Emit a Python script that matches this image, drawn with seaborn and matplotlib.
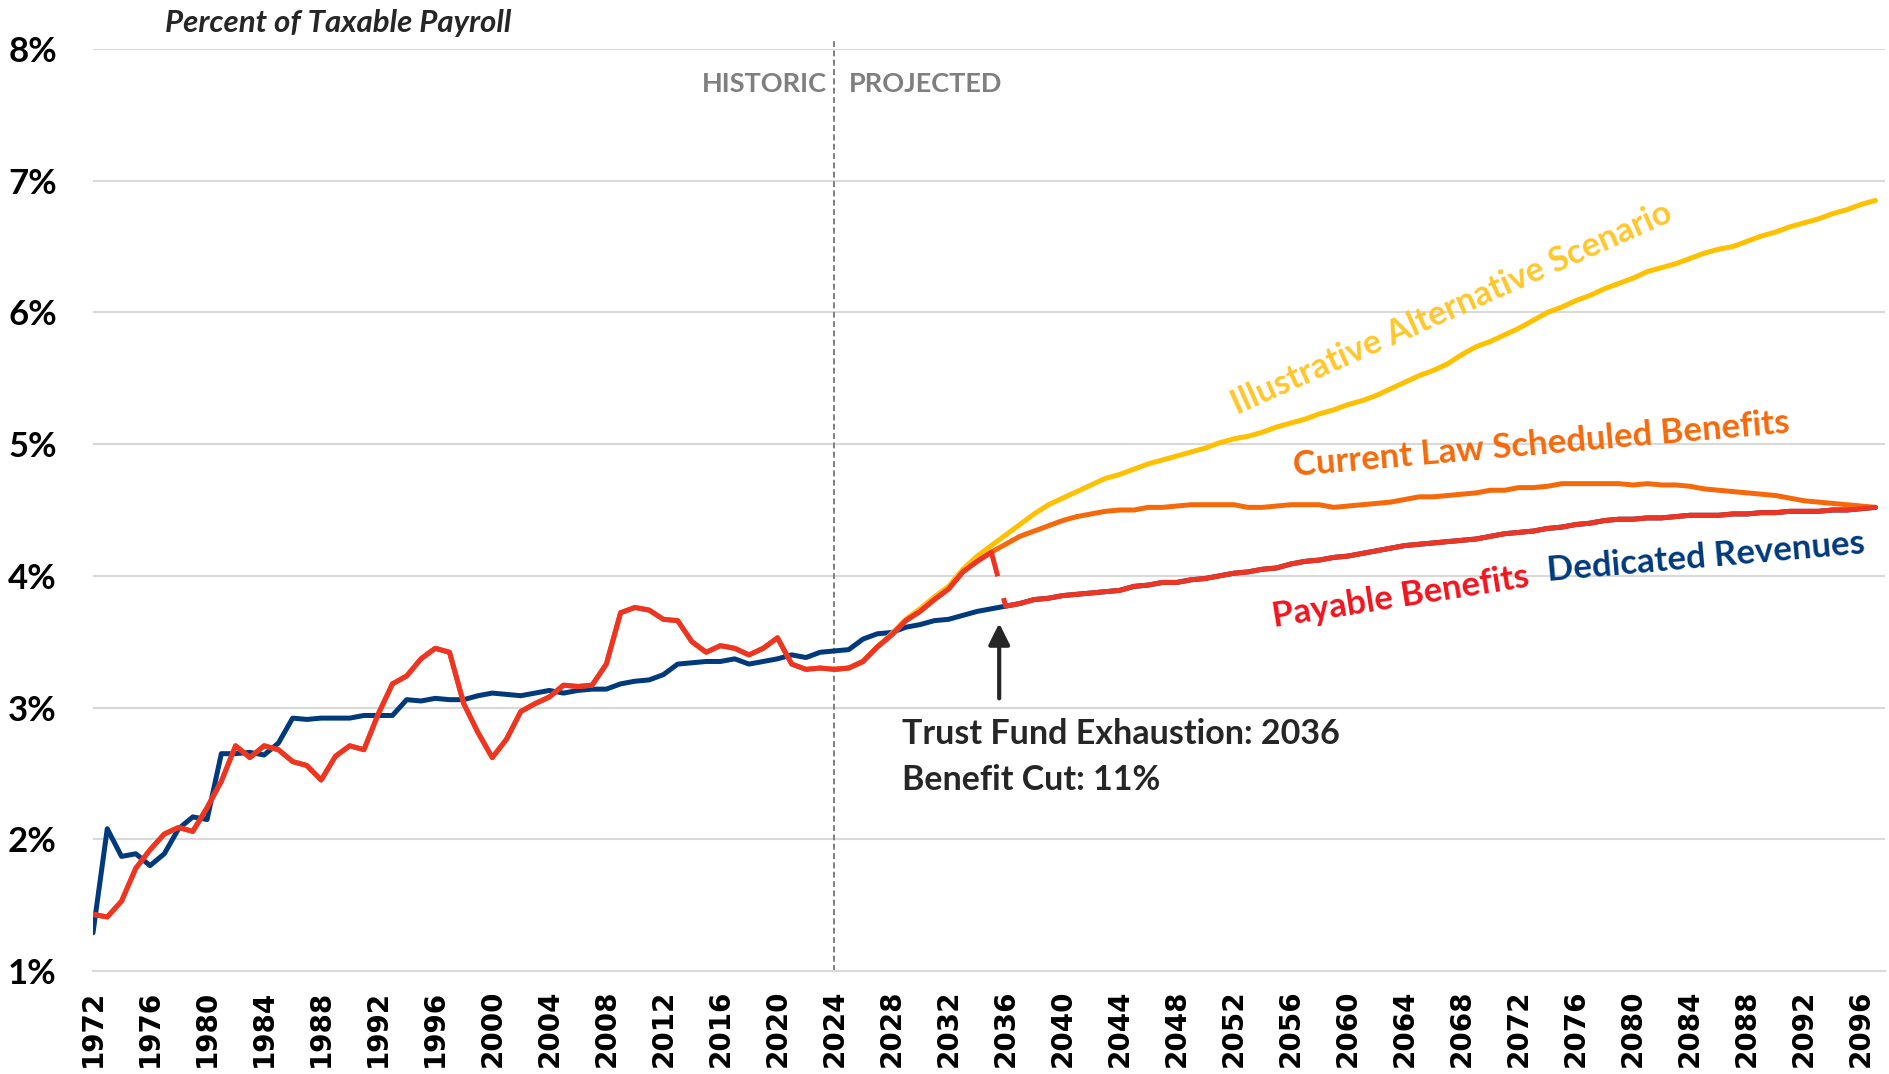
import matplotlib
matplotlib.use("Agg")
import matplotlib.pyplot as plt
import seaborn as sns

# Historic years 1972-2024 (percent of taxable payroll)
hist_years = list(range(1972, 2025))
income_hist = [1.29, 2.08, 1.87, 1.89, 1.80, 1.89, 2.08, 2.17, 2.15, 2.65,
               2.65, 2.66, 2.64, 2.73, 2.92, 2.91, 2.92, 2.92, 2.92, 2.94,
               2.94, 2.94, 3.06, 3.05, 3.07, 3.06, 3.06, 3.09, 3.11, 3.10,
               3.09, 3.11, 3.13, 3.11, 3.13, 3.14, 3.14, 3.18, 3.20, 3.21,
               3.25, 3.33, 3.34, 3.35, 3.35, 3.37, 3.33, 3.35, 3.37, 3.40,
               3.38, 3.42, 3.43]
cost_hist = [1.43, 1.41, 1.53, 1.78, 1.92, 2.04, 2.09, 2.06, 2.24, 2.44,
             2.71, 2.62, 2.71, 2.68, 2.59, 2.56, 2.45, 2.63, 2.71, 2.68,
             2.95, 3.18, 3.24, 3.37, 3.45, 3.42, 3.03, 2.81, 2.62, 2.76,
             2.97, 3.03, 3.08, 3.17, 3.16, 3.17, 3.33, 3.72, 3.76, 3.74,
             3.67, 3.66, 3.50, 3.42, 3.47, 3.45, 3.40, 3.45, 3.53, 3.33,
             3.29, 3.30, 3.29]

# Projected years 2025-2097
proj_years = list(range(2025, 2098))
scheduled = [3.30, 3.35, 3.46, 3.55, 3.66, 3.73, 3.82, 3.90, 4.03, 4.11,
             4.18, 4.24, 4.30, 4.34, 4.38, 4.42, 4.45, 4.47, 4.49, 4.50,
             4.50, 4.52, 4.52, 4.53, 4.54, 4.54, 4.54, 4.54, 4.52, 4.52,
             4.53, 4.54, 4.54, 4.54, 4.52, 4.53, 4.54, 4.55, 4.56, 4.58,
             4.60, 4.60, 4.61, 4.62, 4.63, 4.65, 4.65, 4.67, 4.67, 4.68,
             4.70, 4.70, 4.70, 4.70, 4.70, 4.69, 4.70, 4.69, 4.69, 4.68,
             4.66, 4.65, 4.64, 4.63, 4.62, 4.61, 4.59, 4.57, 4.56, 4.55,
             4.54, 4.53, 4.52]
alternative = [3.30, 3.35, 3.46, 3.56, 3.67, 3.75, 3.84, 3.92, 4.05, 4.15,
               4.23, 4.31, 4.39, 4.47, 4.54, 4.59, 4.64, 4.69, 4.74, 4.77,
               4.81, 4.85, 4.88, 4.91, 4.94, 4.97, 5.01, 5.04, 5.06, 5.09,
               5.13, 5.16, 5.19, 5.23, 5.26, 5.30, 5.33, 5.37, 5.42, 5.47,
               5.52, 5.56, 5.61, 5.68, 5.74, 5.78, 5.83, 5.88, 5.94, 6.00,
               6.04, 6.09, 6.13, 6.18, 6.22, 6.26, 6.31, 6.34, 6.37, 6.41,
               6.45, 6.48, 6.50, 6.54, 6.58, 6.61, 6.65, 6.68, 6.71, 6.75,
               6.78, 6.82, 6.85]
income_proj = [3.44, 3.52, 3.56, 3.57, 3.61, 3.63, 3.66, 3.67, 3.70, 3.73,
               3.75, 3.77, 3.79, 3.82, 3.83, 3.85, 3.86, 3.87, 3.88, 3.89,
               3.92, 3.93, 3.95, 3.95, 3.97, 3.98, 4.00, 4.02, 4.03, 4.05,
               4.06, 4.09, 4.11, 4.12, 4.14, 4.15, 4.17, 4.19, 4.21, 4.23,
               4.24, 4.25, 4.26, 4.27, 4.28, 4.30, 4.32, 4.33, 4.34, 4.36,
               4.37, 4.39, 4.40, 4.42, 4.43, 4.43, 4.44, 4.44, 4.45, 4.46,
               4.46, 4.46, 4.47, 4.47, 4.48, 4.48, 4.49, 4.49, 4.49, 4.50,
               4.50, 4.51, 4.52]
depletion_year = 2036

NAVY = "#003A7D"
RED = "#EE3524"
ORANGE = "#F5690A"
GOLD = "#FFC000"
GRID = "#d9d9d9"
GRAY = "#7f7f7f"
DARK = "#262626"

sns.set_style("white")
plt.rcParams["font.family"] = ["Lato", "DejaVu Sans"]

fig = plt.figure(figsize=(18.89, 10.74), dpi=100)
ax = fig.add_axes([93 / 1889, 1 - 971 / 1074, (1885 - 93) / 1889, (971 - 49) / 1074])

all_years = hist_years + proj_years
lw = 3.6

# Dedicated revenues
sns.lineplot(x=all_years, y=income_hist + income_proj, color=NAVY, lw=lw,
             ax=ax, sort=False, estimator=None)
# Illustrative alternative scenario
sns.lineplot(x=[2024] + proj_years, y=[cost_hist[-1]] + alternative, color=GOLD,
             lw=lw, ax=ax, sort=False, estimator=None)
# Current law scheduled benefits
sns.lineplot(x=all_years, y=cost_hist + scheduled, color=ORANGE, lw=lw,
             ax=ax, sort=False, estimator=None)

# Payable benefits: scheduled until depletion, then revenues
k = proj_years.index(depletion_year)
pay_years_a = hist_years + proj_years[:k]
pay_vals_a = cost_hist + scheduled[:k]
sns.lineplot(x=pay_years_a, y=pay_vals_a, color=RED, lw=lw, ax=ax,
             sort=False, estimator=None)
sns.lineplot(x=[proj_years[k - 1], proj_years[k]], y=[scheduled[k - 1], income_proj[k]],
             color=RED, lw=lw, ax=ax, sort=False, estimator=None,
             linestyle=(0, (5, 4.5)))
sns.lineplot(x=proj_years[k:], y=income_proj[k:], color=RED, lw=lw, ax=ax,
             sort=False, estimator=None)

# Axes styling
ax.set_xlim(1972, 2097.67)
ax.set_ylim(1, 8)
ax.set_xticks(list(range(1972, 2097, 4)))
ax.set_xticklabels([str(y) for y in range(1972, 2097, 4)], rotation=90,
                   fontsize=20, fontweight="bold", family="DejaVu Sans")
ax.set_yticks(list(range(1, 9)))
ax.set_yticklabels([f"{v}%" for v in range(1, 9)], fontsize=25,
                   fontweight="bold", color="black")
ax.tick_params(axis="x", direction="out", length=9.5, width=1.5, color=GRID,
               pad=4, labelcolor="black")
ax.tick_params(axis="y", length=0, pad=26)
for side in ["left", "top", "right"]:
    ax.spines[side].set_visible(False)
ax.spines["bottom"].set_color(GRID)
ax.spines["bottom"].set_linewidth(1.5)
ax.yaxis.grid(True, color=GRID, lw=1.5)
ax.xaxis.grid(False)
ax.set_axisbelow(True)
ax.set_xlabel("")
ax.set_ylabel("")

# Historic / projected divider
ax.axvline(2024, ymin=0, ymax=1.0098, color=GRAY, lw=1.4,
           linestyle=(0, (3, 1.8)), clip_on=False, zorder=1)
ax.text(2023.5, 7.735, "HISTORIC", ha="right", va="center", fontsize=19.5,
        fontweight="bold", color=GRAY)
ax.text(2025.0, 7.735, "PROJECTED", ha="left", va="center", fontsize=19.5,
        fontweight="bold", color=GRAY)

fig.text(165 / 1889, 1 - 23 / 1074, "Percent of Taxable Payroll", ha="left",
         va="center", fontsize=22.5, fontweight="bold", style="italic", color=DARK)

# Trust fund annotation
ax.annotate("", xy=(2035.55, 3.64), xytext=(2035.55, 3.07),
            arrowprops=dict(arrowstyle="-|>", color=DARK, lw=3,
                            mutation_scale=32, shrinkA=0, shrinkB=0))
ax.text(2028.7, 2.80, "Trust Fund Exhaustion: 2036", ha="left", va="center",
        fontsize=24.5, fontweight="bold", color=DARK)
ax.text(2028.7, 2.45, "Benefit Cut: 11%", ha="left", va="center",
        fontsize=24.5, fontweight="bold", color=DARK)

# Series labels
ax.text(2067.3, 6.03, "Illustrative Alternative Scenario", rotation=24,
        rotation_mode="anchor", ha="center", va="center", fontsize=24.5,
        fontweight="bold", color="#FFC72C")
ax.text(2073.6, 5.00, "Current Law Scheduled Benefits", rotation=5,
        rotation_mode="anchor", ha="center", va="center", fontsize=25,
        fontweight="bold", color=ORANGE)
ax.text(2063.7, 3.84, "Payable Benefits", rotation=9,
        rotation_mode="anchor", ha="center", va="center", fontsize=25,
        fontweight="bold", color="#F0141E")
ax.text(2085.1, 4.14, "Dedicated Revenues", rotation=5,
        rotation_mode="anchor", ha="center", va="center", fontsize=25,
        fontweight="bold", color=NAVY)

fig.savefig("out.png", dpi=100)
